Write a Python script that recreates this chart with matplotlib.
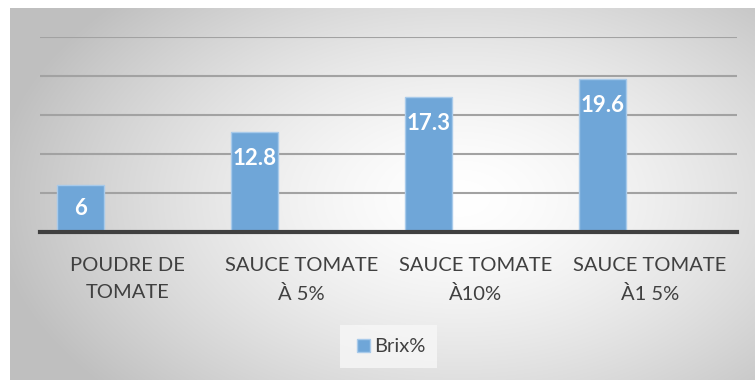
import matplotlib.pyplot as plt
import numpy as np
from matplotlib.patches import Rectangle

# data
categories = ['POUDRE DE\nTOMATE', 'SAUCE TOMATE\nÀ 5%', 'SAUCE TOMATE\nÀ10%', 'SAUCE TOMATE\nÀ1 5%']
brix = [6, 12.8, 17.3, 19.6]
labels = ['6', '12.8', '17.3', '19.6']

plt.rcParams['font.family'] = ['Lato', 'DejaVu Sans']

W, H = 755, 380
fig = plt.figure(figsize=(W / 100, H / 100), dpi=100)
fig.patch.set_facecolor('white')

# background with radial gradient (chart area)
bg = fig.add_axes((10 / W, 0, 745 / W, 372 / H))
bg.set_axis_off()
yy, xx = np.mgrid[0:372, 0:745]
cx, cy = 450, 190
r = np.sqrt(((xx - cx) / 470) ** 2 + ((yy - cy) / 290) ** 2)
r = np.clip(r, 0, 1)
val = 1.0 - 0.25 * r ** 1.5
img = np.dstack([val, val, val])
bg.imshow(img, aspect='auto', interpolation='bilinear')

# plot area
ax = fig.add_axes((40 / W, (H - 232) / H, 697 / W, 195 / H))
ax.patch.set_alpha(0)
x = np.arange(len(categories))
width = 0.27
bars = ax.bar(x - width, brix, width=width, color='#6fa6d8',
              edgecolor='#a8caea', linewidth=1, zorder=3)

ax.set_xlim(-0.5, len(categories) - 0.5)
ax.set_ylim(0, 25)
ax.set_yticks(np.arange(0, 26, 5))
ax.yaxis.grid(True, color='#a2a2a2', linewidth=1.5, zorder=0)
ax.set_axisbelow(True)
for s in ['top', 'right', 'left']:
    ax.spines[s].set_visible(False)
ax.spines['bottom'].set_color('#404040')
ax.spines['bottom'].set_linewidth(3)
ax.spines['bottom'].set_zorder(4)
ax.tick_params(axis='y', left=False, labelleft=False)
ax.tick_params(axis='x', length=0, pad=18)
ax.set_xticks(x)
ax.set_xticklabels(categories, fontsize=14.5, color='#404040', linespacing=1.75)

for b, lab, v in zip(bars, labels, brix):
    cxb = b.get_x() + b.get_width() / 2
    if v < 8:
        ax.text(cxb, v / 2, lab, ha='center', va='center', color='white',
                fontsize=16, fontweight='bold', zorder=5)
    else:
        ax.annotate(lab, (cxb, v), xytext=(0, -19), textcoords='offset points',
                    ha='center', va='center', color='white',
                    fontsize=16, fontweight='bold', zorder=5)

# legend
leg_box = Rectangle((340 / W, (H - 368) / H), 97 / W, 43 / H, transform=fig.transFigure,
                    facecolor='#f7f7f7', edgecolor='none', alpha=0.8)
fig.patches.append(leg_box)
fig.patches.append(Rectangle((357 / W, (H - 352) / H), 13 / W, 13 / H,
                             transform=fig.transFigure, facecolor='#6fa6d8',
                             edgecolor='#a8caea', linewidth=1))
fig.text(374 / W, (H - 346) / H, 'Brix%', fontsize=14.5, color='#404040',
         ha='left', va='center')

fig.savefig('out.png', dpi=100)
